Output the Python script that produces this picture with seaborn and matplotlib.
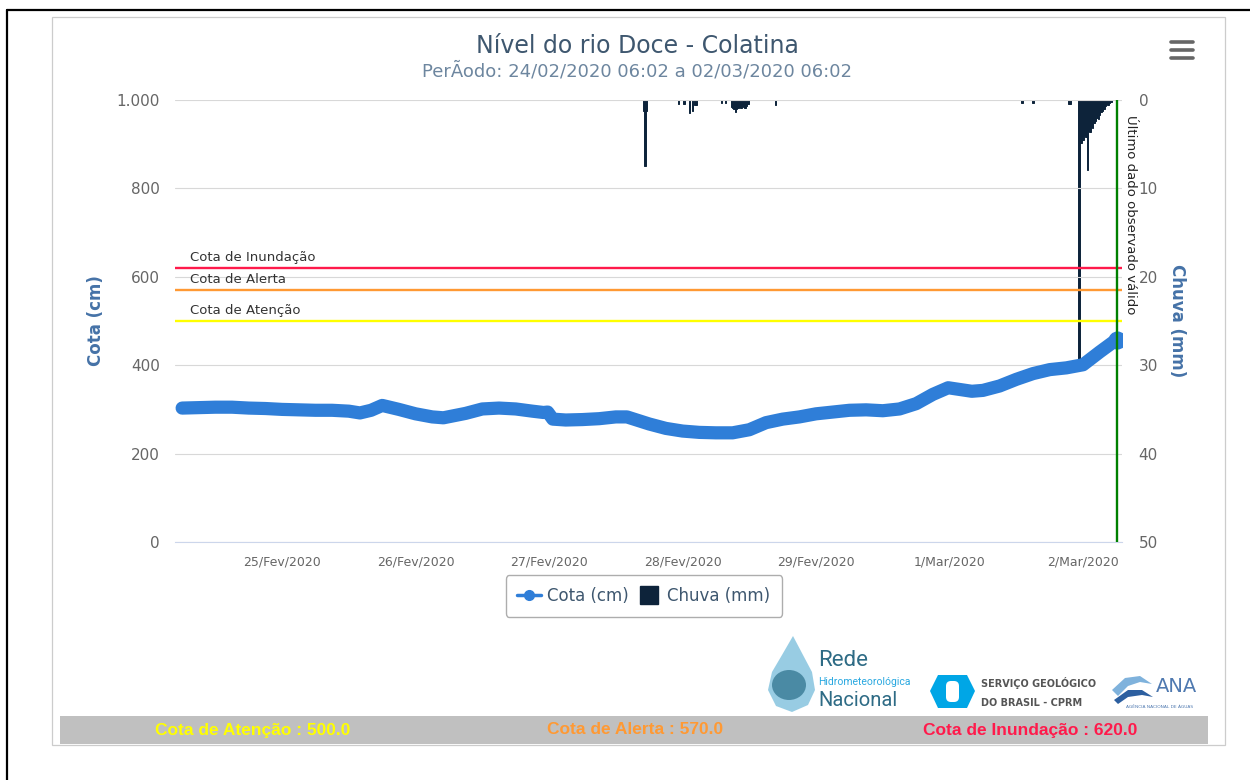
import numpy as np
import pandas as pd
import matplotlib
matplotlib.use('Agg')
import matplotlib.pyplot as plt
from matplotlib.lines import Line2D
from matplotlib.patches import Rectangle, Polygon, FancyBboxPatch, Ellipse
import seaborn as sns

# ---- data ----
cota_times = [
    '2020-02-24 06:02', '2020-02-24 09:00', '2020-02-24 12:00', '2020-02-24 15:00',
    '2020-02-24 18:00', '2020-02-24 21:00', '2020-02-25 00:00', '2020-02-25 03:00',
    '2020-02-25 06:00', '2020-02-25 09:00', '2020-02-25 12:00', '2020-02-25 14:00',
    '2020-02-25 16:00', '2020-02-25 18:00', '2020-02-25 21:00', '2020-02-26 00:00',
    '2020-02-26 03:00', '2020-02-26 05:00', '2020-02-26 09:00', '2020-02-26 12:00',
    '2020-02-26 15:00', '2020-02-26 18:00', '2020-02-26 21:00', '2020-02-26 23:00',
    '2020-02-26 23:45', '2020-02-27 00:40', '2020-02-27 03:00', '2020-02-27 06:00',
    '2020-02-27 09:00', '2020-02-27 12:00', '2020-02-27 14:00', '2020-02-27 18:00',
    '2020-02-27 21:00', '2020-02-28 00:00', '2020-02-28 03:00', '2020-02-28 06:00',
    '2020-02-28 09:00', '2020-02-28 12:00', '2020-02-28 15:00', '2020-02-28 18:00',
    '2020-02-28 21:00', '2020-02-29 00:00', '2020-02-29 03:00', '2020-02-29 06:00',
    '2020-02-29 09:00', '2020-02-29 12:00', '2020-02-29 15:00', '2020-02-29 18:00',
    '2020-02-29 21:00', '2020-02-29 23:45', '2020-03-01 04:00', '2020-03-01 06:00',
    '2020-03-01 09:00', '2020-03-01 12:00', '2020-03-01 15:00', '2020-03-01 18:00',
    '2020-03-01 21:00', '2020-03-02 00:00', '2020-03-02 03:00', '2020-03-02 06:02',
]
cota_values = [
    303, 304, 305, 305,
    303, 302, 300, 299,
    298, 298, 296, 292,
    298, 309, 300, 290,
    283, 281, 291, 301,
    303, 301, 296, 293,
    294, 278, 276, 277,
    279, 283, 283, 267,
    257, 251, 248, 247,
    247, 254, 270, 278,
    283, 290, 294, 298,
    299, 297, 301, 313,
    334, 349, 341, 343,
    353, 368, 381, 390,
    394, 401, 430, 458,
]

chuva_times = [
    '2020-02-27 17:00', '2020-02-27 17:15', '2020-02-27 17:30', '2020-02-27 23:15',
    '2020-02-28 00:15', '2020-02-28 01:15', '2020-02-28 01:45', '2020-02-28 02:15',
    '2020-02-28 02:30', '2020-02-28 07:00', '2020-02-28 07:45', '2020-02-28 08:45',
    '2020-02-28 09:00', '2020-02-28 09:15', '2020-02-28 09:30', '2020-02-28 09:45',
    '2020-02-28 10:00', '2020-02-28 10:15', '2020-02-28 10:30', '2020-02-28 10:45',
    '2020-02-28 11:00', '2020-02-28 11:15', '2020-02-28 11:30', '2020-02-28 11:45',
    '2020-02-28 16:45', '2020-03-01 13:00', '2020-03-01 15:00', '2020-03-01 21:30',
    '2020-03-01 21:45', '2020-03-01 23:15', '2020-03-01 23:30', '2020-03-01 23:45',
    '2020-03-02 00:00', '2020-03-02 00:15', '2020-03-02 00:30', '2020-03-02 00:45',
    '2020-03-02 01:00', '2020-03-02 01:15', '2020-03-02 01:30', '2020-03-02 01:45',
    '2020-03-02 02:00', '2020-03-02 02:15', '2020-03-02 02:30', '2020-03-02 02:45',
    '2020-03-02 03:00', '2020-03-02 03:15', '2020-03-02 03:30', '2020-03-02 03:45',
    '2020-03-02 04:00', '2020-03-02 04:15', '2020-03-02 04:30', '2020-03-02 04:45',
    '2020-03-02 05:00',
]
chuva_values = [
    1.2, 7.5, 1.2, 0.5,
    0.5, 1.5, 1.3, 0.6,
    0.6, 0.3, 0.3, 0.8,
    0.9, 1.0, 1.4, 1.0,
    0.9, 0.8, 0.9, 0.7,
    0.8, 0.9, 0.7, 0.5,
    0.6, 0.3, 0.3, 0.4,
    0.4, 29.5, 4.9, 4.9,
    4.5, 4.0, 4.2, 7.9,
    3.5, 3.6, 3.0, 3.2,
    2.6, 2.4, 2.0, 2.1,
    1.7, 1.4, 1.2, 1.0,
    0.7, 0.5, 0.6, 0.3,
    0.2,
]

limiar_nomes = ['Cota de Atenção', 'Cota de Alerta', 'Cota de Inundação']
limiar_valores = [500.0, 570.0, 620.0]

xtick_dias = ['2020-02-25', '2020-02-26', '2020-02-27', '2020-02-28',
              '2020-02-29', '2020-03-01', '2020-03-02']
xtick_labels = ['25/Fev/2020', '26/Fev/2020', '27/Fev/2020', '28/Fev/2020',
                '29/Fev/2020', '1/Mar/2020', '2/Mar/2020']
cota_ticks = [0, 200, 400, 600, 800, 1000]
cota_tick_labels = ['0', '200', '400', '600', '800', '1.000']
chuva_ticks = [0, 10, 20, 30, 40, 50]

titulo = 'Nível do rio Doce - Colatina'
subtitulo = 'PerÃodo: 24/02/2020 06:02 a 02/03/2020 06:02'
ultimo_texto = 'Último dado observado válido'

# ---- styles ----
AZUL = '#2f7ed8'
NAVY = '#0d233a'
limiar_cores = ['#ffff00', '#ff9933', '#ff1a4b']
EIXO_COR = '#4572a7'

sns.set_style('white')
plt.rcParams['font.family'] = ['DejaVu Sans']

df = pd.DataFrame({'tempo': pd.to_datetime(cota_times), 'cota': cota_values})
chuva = pd.DataFrame({'tempo': pd.to_datetime(chuva_times), 'mm': chuva_values})

fig = plt.figure(figsize=(12.5, 7.8), dpi=100)
fig.patch.set_facecolor('white')

# decoration layer in pixel coordinates
deco = fig.add_axes([0, 0, 1, 1], zorder=0)
deco.set_xlim(0, 1250)
deco.set_ylim(780, 0)
deco.axis('off')

ax = fig.add_axes([175 / 1250, 1 - 542 / 780, 947 / 1250, 442 / 780], zorder=3)
ax2 = ax.twinx()
ax2.set_zorder(2)
ax.patch.set_visible(False)
ax2.patch.set_visible(False)

# rain bars hanging from the top
ax2.bar(chuva['tempo'], chuva['mm'], width=15 / 1440, color=NAVY, edgecolor=NAVY,
        linewidth=0.7, align='center', zorder=2)
ax2.set_ylim(50, 0)
ax2.set_yticks(chuva_ticks)
ax2.tick_params(axis='y', length=0, pad=12, labelcolor='#666666', labelsize=11)
for s in ax2.spines.values():
    s.set_visible(False)

# level series
sns.lineplot(data=df, x='tempo', y='cota', ax=ax, color=AZUL, linewidth=9.5,
             solid_capstyle='round', solid_joinstyle='round', zorder=4)
ax.plot(df['tempo'].iloc[-1], df['cota'].iloc[-1], 'o', color=AZUL, ms=12, zorder=5)

ax.set_ylim(0, 1000)
t0 = pd.Timestamp('2020-02-24 04:45')
t1 = pd.Timestamp('2020-03-02 07:00')
ax.set_xlim(t0, t1)
ax.set_yticks(cota_ticks)
ax.set_yticklabels(cota_tick_labels)
ax.grid(axis='y', color='#d8d8d8', linewidth=0.8)
ax.grid(axis='x', visible=False)
ax.set_axisbelow(True)
ax.tick_params(axis='y', length=0, pad=11, labelcolor='#666666', labelsize=11)
ax.set_xticks(pd.to_datetime(xtick_dias))
ax.set_xticklabels(xtick_labels, fontsize=9)
ax.tick_params(axis='x', length=7.5, width=0.8, color='#ccd6eb', labelcolor='#666666',
               pad=2, direction='out')
for k, s in ax.spines.items():
    s.set_visible(k == 'bottom')
ax.spines['bottom'].set_color('#ccd6eb')
ax.spines['bottom'].set_linewidth(0.8)

ax.set_xlabel('')
ax.set_ylabel('Cota (cm)', color=EIXO_COR, fontweight='bold', fontsize=12,
              ha='center', va='center', rotation=90)
ax.yaxis.set_label_coords(-0.083, 0.5)
ax2.set_ylabel('Chuva (mm)', color=EIXO_COR, fontweight='bold', fontsize=12,
               ha='center', va='center', rotation=270)
ax2.yaxis.set_label_coords(1.058, 0.5)

# threshold lines
for nome, val, cor in zip(limiar_nomes, limiar_valores, limiar_cores):
    ax.axhline(val, color=cor, linewidth=1.7, zorder=3)
    ax.annotate(nome, xy=(0.016, val), xycoords=('axes fraction', 'data'),
                xytext=(0, 3), textcoords='offset points', va='bottom', ha='left',
                fontsize=9.5, color='#333333')

# last valid observation
t_fim = df['tempo'].iloc[-1]
ax.axvline(t_fim, color='#008000', linewidth=1.7, zorder=6)
ax.annotate(ultimo_texto, xy=(t_fim, 1000), xycoords='data', xytext=(5, -11),
            textcoords='offset points', rotation=-90, ha='left', va='top',
            fontsize=9.5, color='#222222')

# legend
handles = [Line2D([0], [0], color=AZUL, lw=2.5, marker='o', ms=7),
           Line2D([0], [0], color=NAVY, lw=0, marker='s', ms=13)]
leg = fig.legend(handles, ['Cota (cm)', 'Chuva (mm)'], loc='center',
                 bbox_to_anchor=(644 / 1250, 1 - 596 / 780), ncol=2, frameon=True,
                 fancybox=True, edgecolor='#999999', prop={'size': 12},
                 handlelength=1.4, handletextpad=0.4, columnspacing=0.5, borderpad=0.7)
leg.get_frame().set_linewidth(1.0)
for t in leg.get_texts():
    t.set_color('#3e576f')

# titles
deco.text(637, 46, titulo, ha='center', va='center', fontsize=17, color='#3e576f')
deco.text(637, 71, subtitulo, ha='center', va='center', fontsize=13, color='#6d869f')

# hamburger menu
for yy in (42, 50, 58):
    deco.plot([1171, 1193], [yy, yy], color='#666666', lw=2.6, solid_capstyle='round')

# borders
deco.plot([7, 7], [10, 780], color='black', lw=1.6)
deco.plot([7, 1250], [10, 10], color='black', lw=1.6)
deco.add_patch(Rectangle((52, 17), 1173, 728, fill=False, edgecolor='#cccccc', lw=0.9))

# bottom band with threshold values
deco.add_patch(Rectangle((60, 716), 1148, 28, facecolor='#c0c0c0', edgecolor='none'))
for nome, val, cor, xc in zip(limiar_nomes, limiar_valores, limiar_cores, (253, 635, 1030)):
    deco.text(xc, 730, f'{nome} : {val:.1f}', ha='center', va='center', color=cor,
              fontsize=12.5, fontweight='bold', family=['Liberation Sans', 'DejaVu Sans'])

# logos (approximate)
drop = Polygon([(793, 636), (803, 655), (812, 672), (815, 690), (808, 705), (792, 712),
                (776, 706), (768, 690), (772, 672), (782, 655)], closed=True,
               facecolor='#7fc0dd', edgecolor='none', alpha=0.8)
deco.add_patch(drop)
deco.add_patch(Ellipse((789, 685), 34, 30, facecolor='#3d7f99', edgecolor='none', alpha=0.85))
deco.text(818, 661, 'Rede', ha='left', va='center', fontsize=16, color='#2e6b85',
          family=['Roboto', 'DejaVu Sans'])
deco.text(818, 682, 'Hidrometeorológica', ha='left', va='center', fontsize=7.5,
          color='#29a8e0', family=['Roboto', 'DejaVu Sans'])
deco.text(818, 701, 'Nacional', ha='left', va='center', fontsize=14.5, color='#2e6b85',
          family=['Roboto', 'DejaVu Sans'])

hexa = Polygon([(938, 675), (967, 675), (975, 691), (967, 708), (938, 708), (930, 691)],
               closed=True, facecolor='#00a6e6', edgecolor='none')
deco.add_patch(hexa)
deco.add_patch(FancyBboxPatch((946, 681), 13, 21, boxstyle='round,pad=0,rounding_size=5',
                              facecolor='white', edgecolor='none'))
deco.text(981, 683, 'SERVIÇO GEOLÓGICO', ha='left', va='center', fontsize=7,
          fontweight='bold', color='#555555')
deco.text(981, 703, 'DO BRASIL - CPRM', ha='left', va='center', fontsize=7,
          fontweight='bold', color='#555555')

wave1 = Polygon([(1112, 690), (1125, 678), (1140, 676), (1152, 684), (1140, 682),
                 (1128, 686), (1118, 696)], closed=True, facecolor='#7fb2dc', edgecolor='none')
wave2 = Polygon([(1114, 700), (1128, 690), (1142, 690), (1153, 697), (1142, 695),
                 (1128, 697), (1118, 704)], closed=True, facecolor='#2c5fa0', edgecolor='none')
deco.add_patch(wave1)
deco.add_patch(wave2)
deco.text(1156, 686, 'ANA', ha='left', va='center', fontsize=14, color='#4f79b0')
deco.text(1160, 707, 'AGÊNCIA NACIONAL DE ÁGUAS', ha='center', va='center', fontsize=3.2,
          color='#4f79b0')

fig.savefig('out.png', dpi=100, facecolor='white')
